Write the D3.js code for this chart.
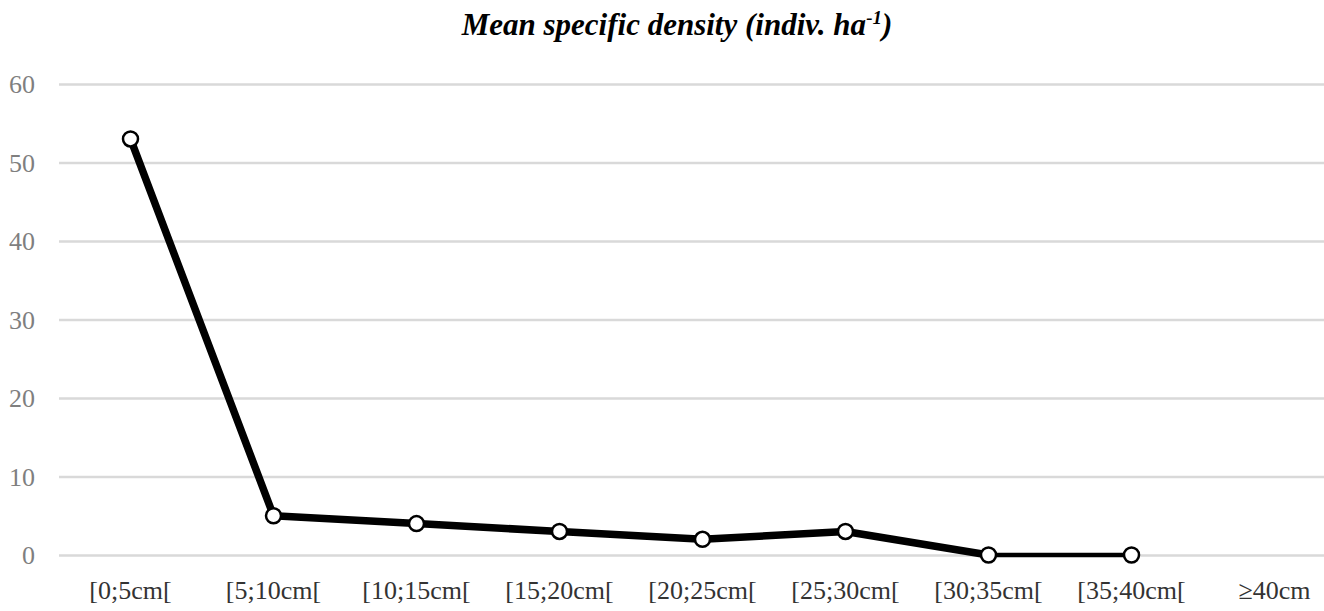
<!DOCTYPE html>
<html><head><meta charset="utf-8">
<script src="https://cdn.jsdelivr.net/npm/d3@7"></script>
<style>body{margin:0;background:#fff}svg{display:block}</style>
</head><body>
<svg id="c" width="1324" height="611"></svg>
<script>
const categories = ["[0;5cm[", "[5;10cm[", "[10;15cm[", "[15;20cm[", "[20;25cm[", "[25;30cm[", "[30;35cm[", "[35;40cm[", "≥40cm"];
const values = [53, 5, 4, 3, 2, 3, 0, 0, null];
const yTicks = [0, 10, 20, 30, 40, 50, 60];

const svg = d3.select("#c");
const x = d3.scaleBand().domain(categories).range([59, 1346]);
const y = d3.scaleLinear().domain([0, 60]).range([555, 84]);
const serif = "'Liberation Serif','Times New Roman',serif";

// title
const t = svg.append("text").attr("x", 677).attr("y", 35).attr("text-anchor", "middle")
  .style("font-family", serif).style("font-weight", "bold").style("font-style", "italic")
  .style("font-size", "31px").attr("fill", "#000");
t.append("tspan").text("Mean specific density (indiv. ha");
t.append("tspan").attr("dy", -11).style("font-size", "19px").text("-1");
t.append("tspan").attr("dy", 11).text(")");

// grid
const yAxis = d3.axisLeft(y).tickValues(yTicks).tickSize(-(1324 - 59)).tickPadding(24);
const ga = svg.append("g").attr("transform", "translate(59,0)").call(yAxis);
ga.select(".domain").remove();
ga.selectAll(".tick line").attr("stroke", "#d9d9d9").attr("stroke-width", 2.5);
ga.selectAll(".tick text").attr("fill", "#7f7f7f").style("font-family", serif).style("font-size", "26px").attr("dy", "0.34em");

// x axis labels
const xAxis = d3.axisBottom(x).tickSize(0).tickPadding(0);
const gx = svg.append("g").attr("transform", "translate(0,576)").call(xAxis);
gx.select(".domain").remove();
gx.selectAll(".tick text").attr("fill", "#333").style("font-family", serif).style("font-size", "26px").attr("dy", "0.9em");

// line
const pts = categories.map((c, i) => ({c, v: values[i]})).filter(d => d.v !== null);
const cx = d => x(d.c) + x.bandwidth() / 2;
const segs = d3.pairs(pts);
svg.append("g").selectAll("line").data(segs).join("line")
  .attr("x1", d => cx(d[0])).attr("y1", d => y(d[0].v))
  .attr("x2", d => cx(d[1])).attr("y2", d => y(d[1].v))
  .attr("stroke", "#000").attr("stroke-linecap", "round")
  .attr("stroke-width", d => (d[0].v === 0 && d[1].v === 0) ? 4.5 : 7.5);

svg.append("g").selectAll("circle").data(pts).join("circle")
  .attr("cx", cx).attr("cy", d => y(d.v)).attr("r", 7.5)
  .attr("fill", "#fff").attr("stroke", "#000").attr("stroke-width", 2.5);
</script>
</body></html>
